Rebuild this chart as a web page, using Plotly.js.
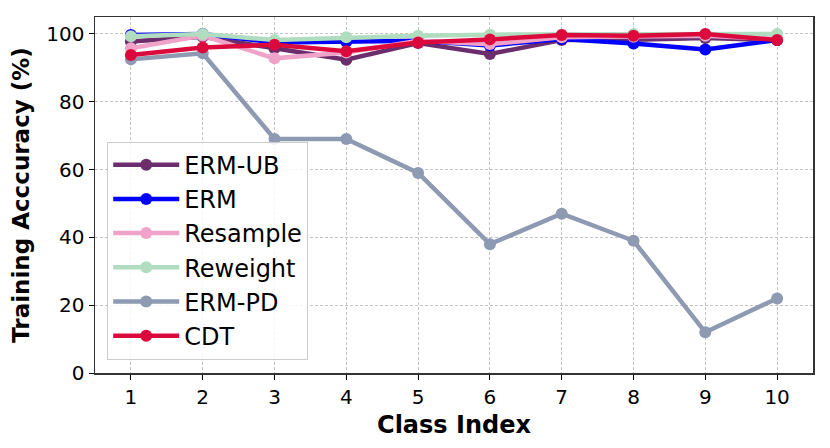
<!DOCTYPE html>
<html>
<head>
<meta charset="utf-8">
<script src="https://cdn.plot.ly/plotly-3.0.1.min.js"></script>
<style>html,body{margin:0;padding:0;background:#fff;}#chart{width:830px;height:448px;}</style>
</head>
<body>
<div id="chart"></div>
<script>
const classIndex = [1, 2, 3, 4, 5, 6, 7, 8, 9, 10];
const ermUB    = [97.8, 99.2, 95.8, 92.4, 97.3, 94.1, 98.2, 98.3, 98.8, 98.2];
const erm      = [99.7, 100.0, 97.5, 97.7, 98.0, 96.6, 98.5, 97.2, 95.4, 98.2];
const resample = [95.8, 99.5, 92.8, 94.5, 98.0, 97.0, 99.0, 99.2, 99.5, 98.5];
const reweight = [99.3, 100.0, 98.2, 99.0, 99.5, 99.8, 99.8, 100.0, 99.8, 100.0];
const ermPD    = [92.5, 94.3, 69.0, 69.0, 59.0, 38.0, 47.0, 39.0, 12.0, 22.0];
const cdt      = [93.8, 96.0, 96.8, 94.9, 97.5, 98.4, 99.7, 99.5, 100.0, 98.2];

const seriesNames = ['ERM-UB', 'ERM', 'Resample', 'Reweight', 'ERM-PD', 'CDT'];
const seriesData = [ermUB, erm, resample, reweight, ermPD, cdt];
const seriesColors = ['#6c2d6c', '#0000ff', '#f0a3c9', '#b0dcc0', '#8d9ab2', '#dc0a3c'];

const traces = seriesNames.map((n, i) => ({
  x: classIndex, y: seriesData[i], name: n, type: 'scatter', mode: 'lines+markers',
  legendgroup: 'g' + i,
  line: {color: seriesColors[i], width: 4.5},
  marker: {color: seriesColors[i], size: 12}
}));

const axisFont = {family: 'DejaVu Sans', size: 20, color: '#000'};
const layout = {
  width: 830, height: 448,
  margin: {l: 95, r: 17, t: 17, b: 75},
  paper_bgcolor: '#fff', plot_bgcolor: '#fff',
  font: {family: 'DejaVu Sans', color: '#000'},
  xaxis: {
    range: [0.5, 10.5], tickvals: classIndex, ticktext: classIndex.map(String),
    tickfont: axisFont, ticks: 'outside', ticklen: 5, tickcolor: '#000',
    showline: true, linecolor: '#333', linewidth: 1.5, mirror: true,
    showgrid: true, gridcolor: '#c4c4c4', griddash: '3px,2px', gridwidth: 1,
    zeroline: false,
    title: {text: '<b>Class Index</b>', font: {family: 'DejaVu Sans', size: 24, color: '#000'}, standoff: 8}
  },
  yaxis: {
    range: [0, 105], tickvals: [0, 20, 40, 60, 80, 100],
    tickfont: axisFont, ticks: 'outside', ticklen: 5, tickcolor: '#000',
    showline: true, linecolor: '#333', linewidth: 1.5, mirror: true,
    showgrid: true, gridcolor: '#c4c4c4', griddash: '3px,2px', gridwidth: 1,
    zeroline: false,
    title: {text: '<b>Training Acccuracy (%)</b>', font: {family: 'DejaVu Sans', size: 23, color: '#000'}, standoff: 10}
  },
  legend: {
    x: 0.017, y: 0.65, xanchor: 'left', yanchor: 'top',
    bgcolor: 'rgba(255,255,255,0.85)', bordercolor: '#cccccc', borderwidth: 1,
    font: {family: 'DejaVu Sans', size: 24, color: '#000'},
    itemwidth: 66,
    tracegroupgap: 0
  },
  showlegend: true
};
Plotly.newPlot('chart', traces, layout, {displayModeBar: false, staticPlot: true});
</script>
</body>
</html>
